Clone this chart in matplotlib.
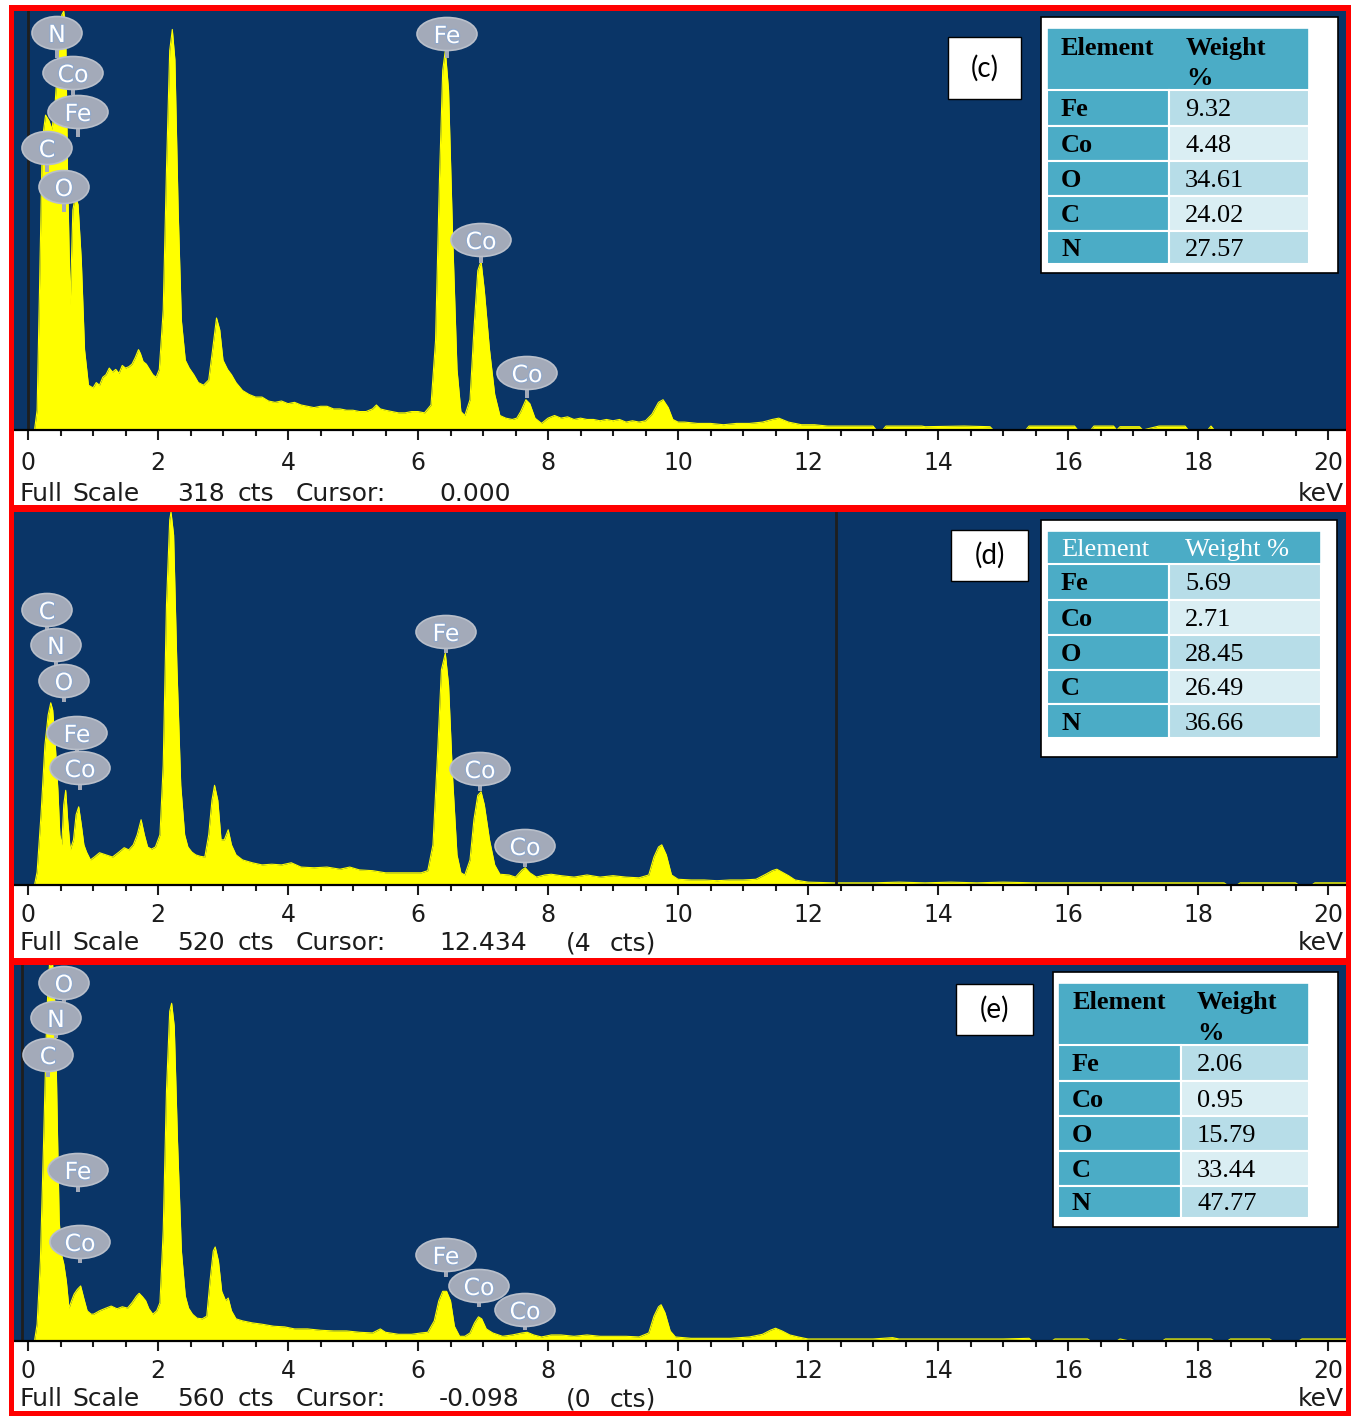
import matplotlib
matplotlib.use("Agg")
import matplotlib.pyplot as plt
from matplotlib.patches import Rectangle, Ellipse
from matplotlib.ticker import MultipleLocator
import matplotlib.patheffects as pe

# ---------------------------------------------------------------- data
# EDS spectra: (energy keV, counts)
spectrum_c = [
    (0.10, 0), (0.14, 15), (0.18, 114), (0.22, 220), (0.27, 239), (0.32, 235), (0.37, 228),
    (0.42, 250), (0.47, 288), (0.52, 315), (0.55, 318), (0.58, 304), (0.61, 190), (0.65, 95),
    (0.69, 167), (0.73, 178), (0.77, 171), (0.82, 129), (0.87, 61), (0.93, 34), (1.00, 32),
    (1.05, 36), (1.10, 34), (1.15, 40), (1.20, 42), (1.25, 47), (1.30, 44), (1.35, 46),
    (1.40, 43), (1.45, 49), (1.50, 47), (1.55, 48), (1.60, 50), (1.65, 55), (1.70, 61),
    (1.73, 58), (1.77, 52), (1.82, 50), (1.87, 46), (1.92, 42), (1.97, 40), (2.02, 46),
    (2.08, 91), (2.13, 197), (2.18, 288), (2.22, 304), (2.26, 281), (2.31, 167), (2.36, 83),
    (2.42, 53), (2.48, 47), (2.55, 42), (2.62, 36), (2.70, 34), (2.78, 38), (2.84, 61),
    (2.90, 85), (2.95, 76), (3.00, 53), (3.07, 46), (3.13, 42), (3.20, 36), (3.30, 30),
    (3.40, 27), (3.50, 25), (3.60, 25), (3.70, 22), (3.80, 21), (3.90, 22), (4.00, 20),
    (4.10, 21), (4.20, 19), (4.30, 18), (4.40, 17), (4.50, 18), (4.60, 18), (4.70, 16),
    (4.80, 16), (4.90, 15), (5.00, 15), (5.10, 14), (5.20, 14), (5.30, 16), (5.36, 19),
    (5.42, 16), (5.50, 15), (5.60, 14), (5.70, 13), (5.80, 13), (5.90, 14), (6.00, 14),
    (6.10, 13), (6.20, 19), (6.27, 68), (6.33, 190), (6.38, 273), (6.42, 288), (6.47, 258),
    (6.53, 152), (6.60, 46), (6.66, 14), (6.72, 11), (6.80, 23), (6.86, 76), (6.92, 121),
    (6.97, 128), (7.02, 106), (7.10, 61), (7.18, 27), (7.26, 11), (7.35, 9), (7.45, 8),
    (7.52, 9), (7.58, 14), (7.66, 23), (7.72, 20), (7.80, 9), (7.90, 5), (8.00, 9),
    (8.10, 11), (8.20, 9), (8.30, 10), (8.40, 8), (8.50, 9), (8.60, 8), (8.70, 8),
    (8.80, 7), (8.90, 8), (9.00, 7), (9.10, 8), (9.20, 6), (9.30, 7), (9.40, 6),
    (9.50, 7), (9.60, 12), (9.70, 21), (9.77, 23), (9.85, 17), (9.92, 8), (10.0, 6),
    (10.1, 6), (10.3, 5), (10.5, 5), (10.7, 4), (10.9, 5), (11.1, 5), (11.3, 6),
    (11.45, 8), (11.55, 9), (11.7, 6), (11.9, 4), (12.1, 4), (12.3, 3), (12.6, 3),
    (13.0, 3), (13.05, 0), (13.15, 0), (13.2, 3), (13.75, 3), (13.8, 2.5), (14.4, 3),
    (14.8, 2.5), (14.85, 0), (15.35, 0), (15.4, 3), (16.1, 3), (16.15, 0), (16.35, 0),
    (16.4, 3), (16.7, 3), (16.75, 0), (16.8, 2.5), (17.1, 2.5), (17.15, 0), (17.4, 3),
    (17.8, 3), (17.85, 0), (18.15, 0), (18.2, 3), (18.25, 0), (20.3, 0),
]

spectrum_d = [
    (0.10, 0), (0.14, 18), (0.20, 98), (0.26, 195), (0.31, 237), (0.35, 254), (0.38, 244),
    (0.42, 195), (0.46, 132), (0.49, 70), (0.52, 56), (0.55, 112), (0.58, 132), (0.61, 91),
    (0.65, 49), (0.70, 63), (0.74, 98), (0.78, 109), (0.82, 84), (0.86, 56), (0.90, 46),
    (0.96, 35), (1.02, 39), (1.10, 45), (1.20, 42), (1.30, 39), (1.40, 46), (1.48, 52),
    (1.55, 49), (1.62, 56), (1.68, 70), (1.74, 91), (1.79, 70), (1.84, 53), (1.90, 50),
    (1.96, 53), (2.03, 70), (2.08, 167), (2.13, 390), (2.18, 509), (2.20, 520), (2.24, 488),
    (2.29, 307), (2.35, 139), (2.41, 70), (2.46, 53), (2.52, 46), (2.58, 42), (2.65, 40),
    (2.72, 39), (2.78, 70), (2.83, 118), (2.87, 139), (2.92, 118), (2.97, 63), (3.02, 63),
    (3.08, 77), (3.13, 56), (3.20, 42), (3.30, 35), (3.45, 31), (3.60, 28), (3.75, 29),
    (3.90, 28), (4.05, 31), (4.20, 25), (4.40, 24), (4.60, 25), (4.80, 22), (4.95, 25),
    (5.10, 21), (5.30, 20), (5.50, 17), (5.70, 17), (5.90, 17), (6.05, 17), (6.15, 20),
    (6.23, 56), (6.30, 181), (6.36, 300), (6.42, 323), (6.47, 279), (6.53, 153), (6.60, 42),
    (6.66, 17), (6.72, 14), (6.80, 35), (6.86, 91), (6.92, 125), (6.97, 130), (7.02, 112),
    (7.10, 63), (7.18, 28), (7.26, 15), (7.40, 14), (7.50, 11), (7.60, 21), (7.65, 24),
    (7.72, 17), (7.82, 11), (7.95, 14), (8.05, 15), (8.20, 13), (8.40, 11), (8.60, 14),
    (8.80, 11), (9.00, 13), (9.20, 11), (9.40, 10), (9.55, 14), (9.63, 39), (9.70, 53),
    (9.75, 56), (9.82, 42), (9.90, 14), (10.0, 8), (10.2, 7), (10.4, 7), (10.6, 6),
    (10.8, 7), (11.0, 7), (11.2, 8), (11.35, 15), (11.45, 20), (11.52, 22), (11.6, 18),
    (11.7, 13), (11.8, 7), (12.0, 4), (12.4, 3), (13.0, 3), (13.4, 4), (13.8, 3),
    (14.2, 4), (14.6, 3), (15.0, 4), (15.5, 3), (16.0, 3), (16.5, 3), (17.0, 3),
    (17.5, 3), (18.0, 3), (18.4, 3), (18.45, 0), (18.6, 0), (18.65, 3), (19.5, 3),
    (19.55, 0), (19.75, 0), (19.8, 3), (20.3, 3),
]

spectrum_e = [
    (0.10, 0), (0.14, 25), (0.19, 119), (0.24, 298), (0.29, 491), (0.33, 560), (0.38, 560),
    (0.42, 491), (0.45, 328), (0.48, 179), (0.52, 127), (0.55, 115), (0.59, 89), (0.63, 49),
    (0.67, 60), (0.71, 70), (0.76, 77), (0.81, 82), (0.86, 63), (0.91, 45), (0.97, 40),
    (1.01, 40), (1.10, 45), (1.20, 49), (1.28, 52), (1.37, 48), (1.45, 51), (1.53, 49),
    (1.60, 57), (1.67, 67), (1.71, 71), (1.76, 66), (1.81, 60), (1.86, 48), (1.92, 40),
    (1.98, 45), (2.03, 57), (2.08, 164), (2.13, 372), (2.18, 491), (2.21, 503), (2.25, 469),
    (2.30, 298), (2.36, 134), (2.42, 67), (2.47, 49), (2.53, 40), (2.60, 34), (2.68, 33),
    (2.75, 37), (2.80, 89), (2.85, 134), (2.88, 140), (2.93, 119), (2.98, 74), (3.04, 60),
    (3.08, 64), (3.13, 45), (3.20, 33), (3.30, 30), (3.45, 27), (3.60, 25), (3.78, 22),
    (3.95, 21), (4.10, 18), (4.30, 18), (4.50, 16), (4.70, 15), (4.90, 15), (5.10, 13),
    (5.30, 12), (5.42, 18), (5.50, 13), (5.70, 10), (5.90, 10), (6.05, 12), (6.15, 13),
    (6.25, 30), (6.32, 60), (6.38, 74), (6.44, 74), (6.50, 60), (6.56, 22), (6.64, 7),
    (6.72, 7), (6.80, 12), (6.87, 27), (6.93, 36), (6.98, 33), (7.05, 18), (7.15, 12),
    (7.30, 7), (7.45, 9), (7.60, 12), (7.68, 13), (7.78, 9), (7.90, 6), (8.05, 9),
    (8.20, 9), (8.40, 7), (8.60, 9), (8.80, 7), (9.00, 7), (9.20, 7), (9.40, 6),
    (9.55, 12), (9.63, 37), (9.70, 51), (9.74, 54), (9.80, 42), (9.88, 15), (9.96, 6),
    (10.2, 4), (10.5, 4), (10.8, 4), (11.1, 6), (11.3, 10), (11.42, 16), (11.5, 19),
    (11.6, 15), (11.72, 9), (11.85, 6), (12.0, 3), (12.5, 3), (13.0, 3), (13.3, 5),
    (13.4, 3), (14.0, 3), (14.5, 3), (15.0, 3), (15.4, 4), (15.45, 0), (15.75, 0),
    (15.8, 3), (16.3, 3), (16.35, 0), (16.75, 0), (16.8, 3), (16.95, 0), (17.45, 0),
    (17.5, 3), (18.2, 3), (18.25, 0), (18.45, 0), (18.5, 3), (19.1, 3), (19.15, 0),
    (19.55, 0), (19.6, 3), (20.3, 3),
]

full_scale = [318, 520, 560]            # cts
cursor_kev = [0.000, 12.434, -0.098]
cursor_cts = [None, 4, 0]
panel_tags = ['(c)', '(d)', '(e)']

tick_values = list(range(0, 21, 2))
tick_labels = [str(v) for v in tick_values]

elements = ['Fe', 'Co', 'O', 'C', 'N']
weight_c = [9.32, 4.48, 34.61, 24.02, 27.57]
weight_d = [5.69, 2.71, 28.45, 26.49, 36.66]
weight_e = [2.06, 0.95, 15.79, 33.44, 47.77]

peak_labels_c = ['N', 'Co', 'Fe', 'C', 'O', 'Fe', 'Co', 'Co']
peak_labels_d = ['C', 'N', 'O', 'Fe', 'Co', 'Fe', 'Co', 'Co']
peak_labels_e = ['O', 'N', 'C', 'Fe', 'Co', 'Fe', 'Co', 'Co']

# ---------------------------------------------------------------- layout (pixels)
W, H = 1351, 1416
NAVY = '#0a3567'
YELLOW = '#ffff00'
RED = '#ff0000'
BADGE = '#a3aab9'
TEAL = '#4bacc6'
ROW1 = '#b7dde8'
ROW2 = '#daeef3'

X0_PX, PX_PER_KEV = 28.0, 65.0
AX_L, AX_R = 14, 1346

panel_tops = [11, 512, 965]
panel_bases = [430, 885, 1341]
label_pads = [7.6, 5.8, 5.6]
text_baselines = [501, 950, 1406]

# badge positions (centre x, centre y, stem bottom y) in pixels
badge_pos = [
    [(57, 33, 58), (73, 73, 95), (78, 112, 137), (47, 148, 172), (64, 187, 212),
     (447, 34, 58), (481, 240, 263), (527, 373, 398)],
    [(47, 610, 630), (56, 645, 665), (64, 681, 702), (77, 733, 755), (80, 768, 790),
     (446, 632, 653), (480, 769, 791), (525, 846, 867)],
    [(64, 983, 1003), (56, 1018, 1038), (48, 1055, 1077), (78, 1170, 1192), (80, 1242, 1263),
     (446, 1255, 1277), (479, 1286, 1307), (525, 1310, 1330)],
]

word_x = [19, 72, 177, 238, 296, 439, 566, 610]

tag_boxes = [(948, 37, 1021, 99), (951, 530, 1028, 581), (956, 984, 1033, 1035)]

table_layout = [
    dict(box=(1041, 17, 1338, 273), xs=(1047, 1169, 1309), header=(28, 90),
         rows=[90, 125.5, 161, 196, 230.5, 264],
         htext=[('Element', 1061, 55), ('Weight', 1186, 55), ('%', 1186, 85)],
         hcolor='black', hweight='bold'),
    dict(box=(1041, 520, 1337, 757), xs=(1047, 1169, 1321), header=(531, 564),
         rows=[564, 599.5, 635, 669.5, 704, 738],
         htext=[('Element', 1061, 556), ('Weight %', 1185, 556)],
         hcolor='white', hweight='normal'),
    dict(box=(1053, 972, 1338, 1227), xs=(1058, 1181, 1309), header=(983, 1045),
         rows=[1045, 1080.5, 1116, 1151, 1185.5, 1218],
         htext=[('Element', 1073, 1009), ('Weight', 1197, 1009), ('%', 1197, 1040)],
         hcolor='black', hweight='bold'),
]

# ---------------------------------------------------------------- figure
fig = plt.figure(figsize=(W / 100, H / 100), dpi=100)
fig.patch.set_facecolor('white')


def px_axes(l, t, r, b, **kw):
    return fig.add_axes([l / W, 1 - b / H, (r - l) / W, (b - t) / H], **kw)


spectra = [spectrum_c, spectrum_d, spectrum_e]
for i in range(3):
    ax = px_axes(AX_L, panel_tops[i], AX_R, panel_bases[i])
    ax.set_facecolor(NAVY)
    ax.set_xlim((AX_L - X0_PX) / PX_PER_KEV, (AX_R - X0_PX) / PX_PER_KEV)
    ax.set_ylim(0, full_scale[i])
    E = [p[0] for p in spectra[i]]
    C = [p[1] for p in spectra[i]]
    ax.fill_between(E, C, 0, color=YELLOW, lw=0, zorder=2)
    ax.plot(E, C, color=YELLOW, lw=0.8, zorder=2)
    ax.axvline(cursor_kev[i], color='#1e1e1e', lw=2, zorder=3)
    for s in ['top', 'left', 'right']:
        ax.spines[s].set_visible(False)
    ax.spines['bottom'].set_color('black')
    ax.spines['bottom'].set_linewidth(1.6)
    ax.spines['bottom'].set_zorder(4)
    ax.set_yticks([])
    ax.set_xticks(tick_values)
    ax.set_xticklabels(tick_labels)
    ax.xaxis.set_minor_locator(MultipleLocator(0.5))
    ax.tick_params(axis='x', which='major', length=7.5, width=1.5, direction='out',
                   pad=label_pads[i], labelsize=17, colors='#1c1c1c')
    ax.tick_params(axis='x', which='minor', length=4, width=1.5, direction='out',
                   colors='#1c1c1c')

# overlay in pixel coordinates for frame, labels and tables
ov = fig.add_axes([0, 0, 1, 1], zorder=10)
ov.set_xlim(0, W)
ov.set_ylim(H, 0)
ov.axis('off')
ov.patch.set_alpha(0)

# red frame
for (x, y, w, h) in [(9, 5, 1342, 6), (9, 5, 5, 1411), (1346, 5, 5, 1411),
                     (9, 505, 1342, 7), (9, 958, 1342, 7), (9, 1411, 1342, 5)]:
    ov.add_patch(Rectangle((x, y), w, h, color=RED, lw=0, zorder=20))

# peak badges
peak_labels = [peak_labels_c, peak_labels_d, peak_labels_e]
for i in range(3):
    for lab, (cx, cy, sb) in zip(peak_labels[i], badge_pos[i]):
        w = 60 if len(lab) == 2 else 50
        ov.add_patch(Rectangle((cx - 2, cy + 10), 4, sb - cy - 10, color=BADGE, lw=0, zorder=5))
        ov.add_patch(Ellipse((cx, cy), w, 33, fc=BADGE, ec='#b9bfca', lw=1.2, zorder=6))
        ov.text(cx, cy + 2, lab, color='white', fontsize=17, ha='center', va='center', zorder=7,
                path_effects=[pe.withStroke(linewidth=1.6, foreground='#8fa8cc')])

# bottom texts
for i in range(3):
    cur = f'{cursor_kev[i]:.3f}'
    words = ['Full', 'Scale', str(full_scale[i]), 'cts', 'Cursor:', cur]
    if cursor_cts[i] is not None:
        words += [f'({cursor_cts[i]}', 'cts)']
    for wd, x in zip(words, word_x):
        ov.text(x, text_baselines[i], wd, fontsize=18, color='#1c1c1c', ha='left',
                va='baseline', zorder=8)
    ov.text(1344, text_baselines[i], 'keV', fontsize=18, color='#1c1c1c', ha='right',
            va='baseline', zorder=8)

# panel tags
for (x0, y0, x1, y1), tag in zip(tag_boxes, panel_tags):
    ov.add_patch(Rectangle((x0, y0), x1 - x0, y1 - y0, fc='white', ec='black', lw=1, zorder=8))
    ov.text((x0 + x1) / 2, (y0 + y1) / 2, tag, fontsize=20, family='Lato', ha='center',
            va='center', zorder=9)

# tables
weights = [weight_c, weight_d, weight_e]
SERIF = 'Liberation Serif'
for lay, wts in zip(table_layout, weights):
    bx0, by0, bx1, by1 = lay['box']
    ov.add_patch(Rectangle((bx0, by0), bx1 - bx0, by1 - by0, fc='white', ec='black', lw=1.2,
                           zorder=8))
    x0, x1, x2 = lay['xs']
    h0, h1 = lay['header']
    ov.add_patch(Rectangle((x0, h0), x2 - x0, h1 - h0, fc=TEAL, ec='white', lw=1.2, zorder=9))
    for txt, tx, ty in lay['htext']:
        ov.text(tx, ty, txt, family=SERIF, fontsize=19, color=lay['hcolor'],
                fontweight=lay['hweight'], va='baseline', ha='left', zorder=10)
    rows = lay['rows']
    for k, (el, wv) in enumerate(zip(elements, wts)):
        y0, y1 = rows[k], rows[k + 1]
        ov.add_patch(Rectangle((x0, y0), x1 - x0, y1 - y0, fc=TEAL, ec='white', lw=1.5,
                               zorder=9))
        ov.add_patch(Rectangle((x1, y0), x2 - x1, y1 - y0, fc=ROW1 if k % 2 == 0 else ROW2,
                               ec='white', lw=1.5, zorder=9))
        yb = (y0 + y1) / 2 + 8.5
        ov.text(x0 + 14, yb, el, family=SERIF, fontsize=19, fontweight='bold', color='black',
                va='baseline', zorder=10)
        ov.text(x1 + 16, yb, f'{wv:.2f}', family=SERIF, fontsize=19, color='black',
                va='baseline', zorder=10)

fig.savefig('out.png', dpi=100, facecolor='white')
